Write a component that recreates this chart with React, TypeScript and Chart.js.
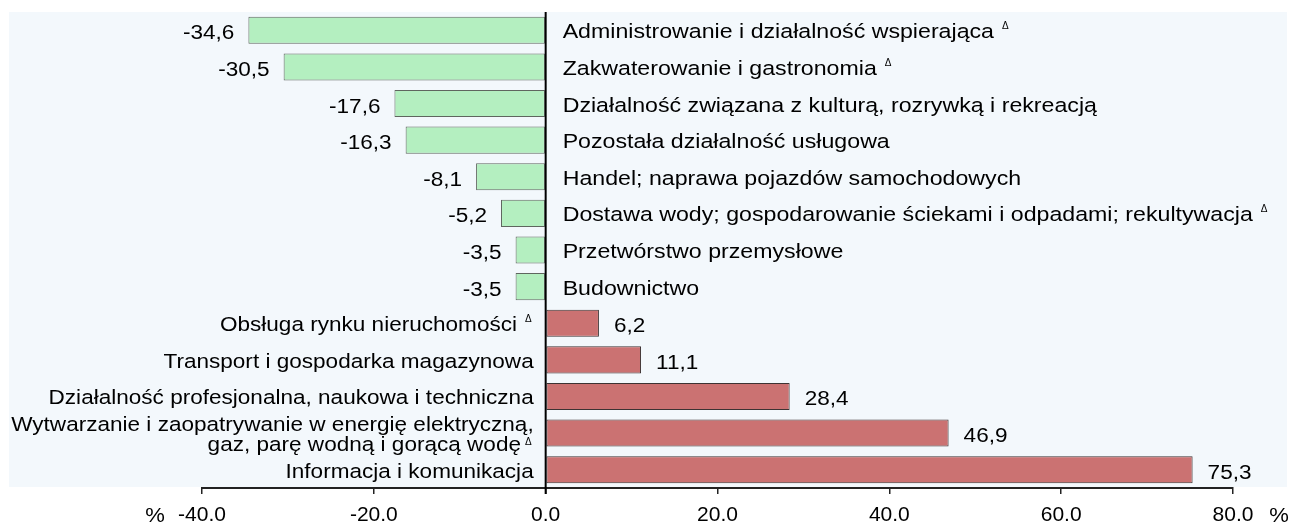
import React, { useEffect, useRef } from 'react';
import { Chart, registerables } from 'chart.js';

Chart.register(...registerables);

const categories: string[][] = [
  ['Administrowanie i działalność wspierająca'],
  ['Zakwaterowanie i gastronomia'],
  ['Działalność związana z kulturą, rozrywką i rekreacją'],
  ['Pozostała działalność usługowa'],
  ['Handel; naprawa pojazdów samochodowych'],
  ['Dostawa wody; gospodarowanie ściekami i odpadami; rekultywacja'],
  ['Przetwórstwo przemysłowe'],
  ['Budownictwo'],
  ['Obsługa rynku nieruchomości'],
  ['Transport i gospodarka magazynowa'],
  ['Działalność profesjonalna, naukowa i techniczna'],
  ['Wytwarzanie i zaopatrywanie w energię elektryczną,', 'gaz, parę wodną i gorącą wodę'],
  ['Informacja i komunikacja'],
];
const deltaMarks: boolean[] = [true, true, false, false, false, true, false, false, true, false, false, true, false];
const values: number[] = [-34.6, -30.5, -17.6, -16.3, -8.1, -5.2, -3.5, -3.5, 6.2, 11.1, 28.4, 46.9, 75.3];
const xMin = -40;
const xMax = 80;
const xStep = 20;
const axisUnit = '%';

const FONT_FAMILY = '"Liberation Sans", Arial, sans-serif';
const CAT_SX_RIGHT = 1.13;
const CAT_SX_LEFT = 1.1;
const VAL_SX = 1.1;
const BG = '#f3f8fc';
const GREEN = '#b4efc0';
const GREEN_BORDER = '#5f665f';
const RED = '#cb7272';
const RED_BORDER = '#3d3333';

function fmt(v: number): string {
  return v.toFixed(1).replace('.', ',');
}

function drawText(ctx: CanvasRenderingContext2D, text: string, x: number, y: number, align: CanvasTextAlign, font: string, sx = 1) {
  ctx.save();
  ctx.translate(x, y);
  ctx.scale(sx, 1);
  ctx.font = font;
  ctx.textAlign = align;
  ctx.textBaseline = 'alphabetic';
  ctx.fillStyle = '#000';
  ctx.fillText(text, 0, 0);
  ctx.restore();
}

function textWidth(ctx: CanvasRenderingContext2D, text: string, font: string, sx = 1) {
  ctx.save();
  ctx.font = font;
  const w = ctx.measureText(text).width * sx;
  ctx.restore();
  return w;
}

const labelPlugin = {
  id: 'labelPlugin',
  beforeDraw(chart: any) {
    const ctx: CanvasRenderingContext2D = chart.ctx;
    const { top, bottom } = chart.chartArea;
    ctx.save();
    ctx.fillStyle = BG;
    ctx.fillRect(9, top, 1287 - 9, bottom - 1 - top);
    ctx.restore();
  },
  afterDatasetsDraw(chart: any) {
    const ctx: CanvasRenderingContext2D = chart.ctx;
    const xs = chart.scales.x;
    const ys = chart.scales.y;
    const { top, bottom } = chart.chartArea;
    const x0 = xs.getPixelForValue(0);

    ctx.save();
    ctx.strokeStyle = '#000';
    ctx.lineWidth = 2;
    ctx.beginPath();
    ctx.moveTo(x0, top);
    ctx.lineTo(x0, bottom + 6);
    ctx.stroke();
    ctx.restore();

    const catFont = `20.5px ${FONT_FAMILY}`;
    const valFont = `20.5px ${FONT_FAMILY}`;
    const deltaFont = `10px ${FONT_FAMILY}`;

    values.forEach((v, i) => {
      const yc = ys.getPixelForValue(i);
      const xv = xs.getPixelForValue(v);
      const lines = categories[i];
      const n = lines.length;
      if (v < 0) {
        drawText(ctx, fmt(v), xv - 14, yc + 9, 'right', valFont, VAL_SX);
        const lx = x0 + 17;
        lines.forEach((ln, k) => {
          const by = yc + 8 + (k - (n - 1) / 2) * 20;
          drawText(ctx, ln, lx, by, 'left', catFont, CAT_SX_RIGHT);
          if (deltaMarks[i] && k === n - 1) {
            const w = textWidth(ctx, ln, catFont, CAT_SX_RIGHT);
            drawText(ctx, 'Δ', lx + w + 8, by - 9, 'left', deltaFont, 1);
          }
        });
      } else {
        drawText(ctx, fmt(v), xv + 15, yc + 9, 'left', valFont, VAL_SX);
        const rx = x0 - 12;
        lines.forEach((ln, k) => {
          const by = yc + 8 + (k - (n - 1) / 2) * 20;
          if (deltaMarks[i] && k === n - 1) {
            const dw = textWidth(ctx, 'Δ', deltaFont, 1);
            drawText(ctx, 'Δ', rx - 2, by - 9 + (n > 1 ? 3 : 0), 'right', deltaFont, 1);
            drawText(ctx, ln, rx - dw - (n > 1 ? 6 : 10), by, 'right', catFont, CAT_SX_LEFT);
          } else {
            drawText(ctx, ln, rx, by, 'right', catFont, CAT_SX_LEFT);
          }
        });
      }
    });

    const tickFont = `21px ${FONT_FAMILY}`;
    const uy = bottom + 34;
    drawText(ctx, axisUnit, xs.getPixelForValue(xMin) - 47, uy, 'center', tickFont, 1.05);
    drawText(ctx, axisUnit, xs.getPixelForValue(xMax) + 46, uy, 'center', tickFont, 1.05);
  },
};

export default function App() {
  const ref = useRef<HTMLCanvasElement | null>(null);
  useEffect(() => {
    document.body.style.margin = '0';
    const canvas = ref.current!;
    const chart = new Chart(canvas, {
      type: 'bar',
      data: {
        labels: categories.map((c) => c.join(' ')),
        datasets: [
          {
            data: values,
            backgroundColor: values.map((v) => (v < 0 ? GREEN : RED)),
            borderColor: values.map((v) => (v < 0 ? GREEN_BORDER : RED_BORDER)),
            borderWidth: 1,
            borderSkipped: false,
            barPercentage: 0.74,
            categoryPercentage: 1,
          },
        ],
      },
      options: {
        indexAxis: 'y',
        responsive: false,
        animation: false,
        layout: { padding: { left: 202, right: 60, top: 12, bottom: 0 } },
        plugins: { legend: { display: false }, tooltip: { enabled: false } },
        scales: {
          x: {
            min: xMin,
            max: xMax,
            ticks: {
              stepSize: xStep,
              color: '#000',
              padding: 9,
              font: { family: FONT_FAMILY, size: 21 },
              callback: (v: any) => Number(v).toFixed(1),
            },
            grid: {
              drawOnChartArea: false,
              drawTicks: true,
              tickLength: 6,
              color: '#222',
              lineWidth: 1.5,
            },
            border: { display: true, color: '#222', width: 2 },
            afterFit: (s: any) => {
              s.height = 37;
            },
          },
          y: { display: false },
        },
      } as any,
      plugins: [labelPlugin],
    });
    return () => chart.destroy();
  }, []);
  return <canvas ref={ref} width={1293} height={525} style={{ display: 'block' }} />;
}
